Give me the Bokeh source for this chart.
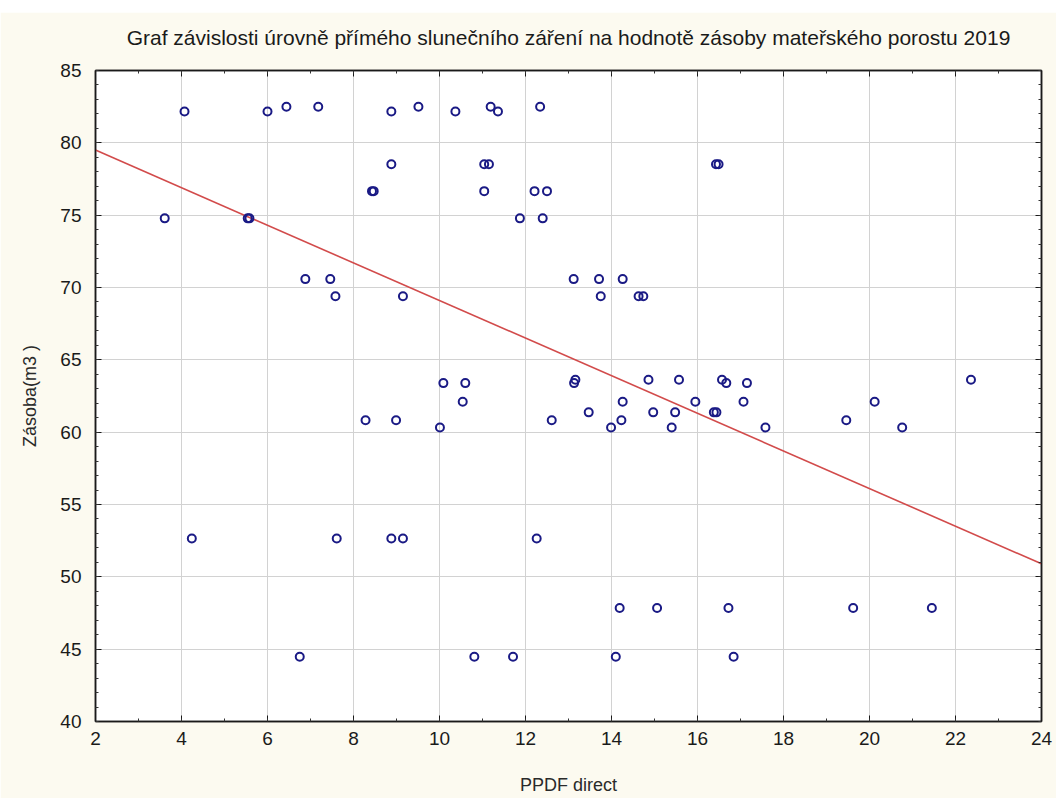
from bokeh.plotting import figure
from bokeh.models import (Range1d, LinearAxis, SingleIntervalTicker, Spacer,
                          CustomLabelingPolicy)
from bokeh.layouts import column
from bokeh.embed import file_html
from bokeh.resources import INLINE

# PPDF direct (x) and stand stock in m3 (y), five plots per stand
ppdf_direct = [
    6.44, 7.18, 9.51, 11.19, 12.34,
    4.07, 6.00, 8.88, 10.37, 11.36,
    8.88, 11.04, 11.15, 16.43, 16.49,
    8.43, 8.47, 11.04, 12.21, 12.50,
    3.61, 5.54, 5.58, 11.87, 12.40,
    6.88, 7.46, 13.12, 13.71, 14.26,
    7.58, 9.15, 13.75, 14.63, 14.74,
    13.16, 14.86, 15.57, 16.57, 22.36,
    10.09, 10.60, 13.13, 16.67, 17.15,
    10.54, 14.26, 15.95, 17.07, 20.12,
    13.47, 14.97, 15.48, 16.38, 16.44,
    8.28, 8.99, 12.61, 14.23, 19.46,
    10.01, 13.99, 15.40, 17.58, 20.76,
    4.24, 7.61, 8.88, 9.15, 12.26,
    14.19, 15.06, 16.72, 19.62, 21.45,
    6.75, 10.81, 11.71, 14.10, 16.84,
]
stand_stock = [82.50, 82.17, 78.52, 76.66, 74.78, 70.58, 69.39, 63.62,
               63.39, 62.10, 61.37, 60.82, 60.32, 52.65, 47.84, 44.47]
zasoba = [v for v in stand_stock for _ in range(5)]

# linear fit drawn across the x range
fit_x = [2, 24]
fit_y = [79.5, 50.9]

x_ticks_interval = 2
y_ticks_interval = 5

title_text = ("Graf závislosti úrovně přímého slunečního záření "
              "na hodnotě zásoby mateřského porostu 2019")

CREAM = "#fcfaf0"
FONT = "Liberation Sans"

p = figure(
    width=1056, height=786,
    x_range=Range1d(2, 24), y_range=Range1d(40, 85),
    output_backend="svg", toolbar_location=None,
    min_border_left=95, min_border_right=12,
    min_border_top=56, min_border_bottom=77,
    background_fill_color="white", border_fill_color=CREAM,
)

p.title.text = title_text
p.title.align = "center"
p.title.offset = 11
p.title.standoff = 22
p.title.text_font = FONT
p.title.text_font_size = "21px"
p.title.text_font_style = "normal"
p.title.text_color = "#1a1a1a"

p.outline_line_color = "#1a1a1a"
p.outline_line_width = 1.5

p.xaxis.ticker = SingleIntervalTicker(interval=x_ticks_interval, num_minor_ticks=2)
p.yaxis.ticker = SingleIntervalTicker(interval=y_ticks_interval, num_minor_ticks=5)

p.xgrid.grid_line_color = "#d2d2d2"
p.ygrid.grid_line_color = "#d2d2d2"
p.xgrid.grid_line_width = 1
p.ygrid.grid_line_width = 1

# mirrored axes on the top and right carry ticks only
no_labels = CustomLabelingPolicy(code="return new Set()")


def style_axis(ax, labels=True):
    ax.axis_line_color = "#1a1a1a"
    ax.axis_line_width = 1.5
    ax.major_tick_in = 6
    ax.major_tick_out = 0
    ax.minor_tick_in = 3
    ax.minor_tick_out = 0
    ax.major_tick_line_color = "#1a1a1a"
    ax.minor_tick_line_color = "#333333"
    if labels:
        ax.major_label_text_font = FONT
        ax.major_label_text_font_size = "19px"
        ax.major_label_text_color = "#1a1a1a"
        ax.axis_label_text_font = FONT
        ax.axis_label_text_font_size = "18px"
        ax.axis_label_text_font_style = "normal"
        ax.axis_label_text_color = "#2a2a2a"
    else:
        ax.major_label_policy = no_labels
        ax.major_label_standoff = 0


style_axis(p.xaxis[0])
style_axis(p.yaxis[0])
p.xaxis.axis_label = "PPDF direct"
p.yaxis.axis_label = "Zásoba(m3 )"
p.xaxis.major_label_standoff = 10
p.xaxis.axis_label_standoff = 27
p.yaxis.major_label_standoff = 14
p.yaxis.axis_label_standoff = 17

top_axis = LinearAxis(ticker=SingleIntervalTicker(interval=x_ticks_interval, num_minor_ticks=2))
right_axis = LinearAxis(ticker=SingleIntervalTicker(interval=y_ticks_interval, num_minor_ticks=5))
style_axis(top_axis, labels=False)
style_axis(right_axis, labels=False)
p.add_layout(top_axis, "above")
p.add_layout(right_axis, "right")

p.line(fit_x, fit_y, line_color="#d24b4b", line_width=1.6)
p.scatter(ppdf_direct, zasoba, marker="circle", size=8,
          fill_color=None, line_color="#1a1a85", line_width=2)

layout = column(Spacer(width=1056, height=12), p, spacing=0)

open("out.html", "w").write(file_html(layout, INLINE))
